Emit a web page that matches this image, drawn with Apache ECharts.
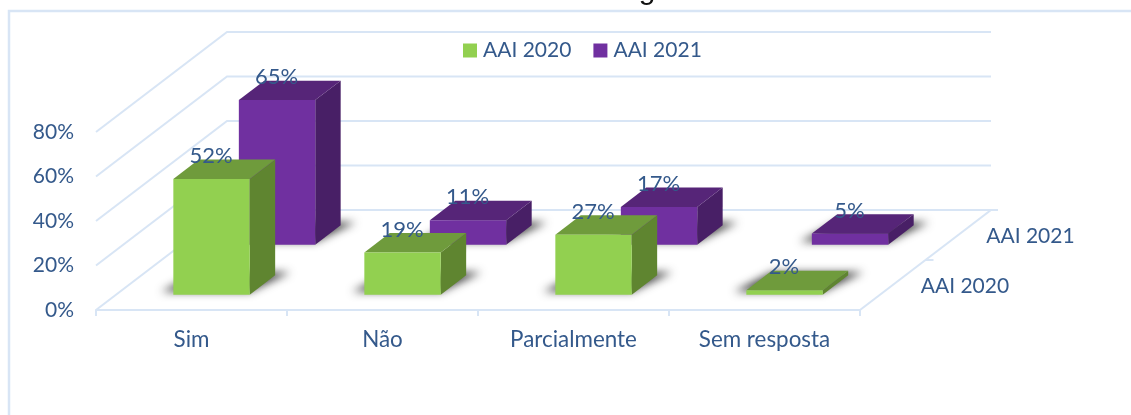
<!DOCTYPE html>
<html><head><meta charset="utf-8">
<style>html,body{margin:0;padding:0;background:#fff}#c{width:1131px;height:415px}</style>
<script src="https://cdn.jsdelivr.net/npm/echarts@6/dist/echarts.min.js"></script>
</head><body><div id="c"></div>
<script>
var categories = ['Sim', 'Não', 'Parcialmente', 'Sem resposta'];
var aai2020 = [52, 19, 27, 2];
var aai2021 = [65, 11, 17, 5];
var yTicks = [0, 20, 40, 60, 80];
var rowNames = ['AAI 2020', 'AAI 2021'];

var FONT = 'Lato';
var TEXT = '#34598b';
var LINE = '#d8e5f5';
var DEPTH_X = 131, DEPTH_Y = 100;           // floor depth vector
var ROW_DY = 50, BAR_DY = 19.4, K = DEPTH_X / DEPTH_Y;
var FS = 21, FS_CAT = 22.4, FS_VAL = 22;
var OFF = 3000;

function barRenderer(row, front, top, side) {
  return function (params, api) {
    var cat = api.value(0), val = api.value(1);
    var base = api.coord([cat, 0]), tip = api.coord([cat, val]);
    var w = api.size([1, 0])[0] * 0.4;
    var start = ROW_DY * (row + 0.5) - BAR_DY / 2;
    var oy = -start;
    var dx = BAR_DY * K, dy = -BAR_DY;
    var x0 = base[0] - w / 2 + start * K, x1 = x0 + w;
    var yb = base[1] + oy, yt = tip[1] + oy;
    var poly = function (pts, fill) {
      return { type: 'polygon', shape: { points: pts }, style: { fill: fill } };
    };
    var sy = yb - 3;
    return {
      type: 'group',
      children: [
        { type: 'polygon', shape: { points: [[x0 - 12 - OFF, sy], [x1 - OFF, sy], [x1 + dx + 15 - OFF, sy + dy], [x0 + dx - OFF, sy + dy]] },
          style: { fill: '#555', shadowBlur: 8, shadowOffsetX: OFF, shadowColor: 'rgba(60,60,60,0.95)' } },
        poly([[x1, yb], [x1 + dx, yb + dy], [x1 + dx, yt + dy], [x1, yt]], side),
        poly([[x0, yt], [x1, yt], [x1 + dx, yt + dy], [x0 + dx, yt + dy]], top),
        poly([[x0, yb], [x1, yb], [x1, yt], [x0, yt]], front),
        { type: 'text', x: (x0 + x1) / 2 - 0.5, y: yt - 23,
          style: { text: val + '%', fill: TEXT, font: FS_VAL + 'px ' + FONT, align: 'center', verticalAlign: 'middle' } }
      ]
    };
  };
}

var option = {
  animation: false,
  backgroundColor: '#fff',
  grid: { left: 96, right: 271, top: 132, bottom: 105 },
  legend: {
    data: rowNames, left: 458, top: 35, itemWidth: 14, itemHeight: 14, itemGap: 22, icon: 'rect',
    textStyle: { color: TEXT, fontFamily: FONT, fontSize: FS, padding: [0, 0, 0, 1] }
  },
  xAxis: {
    type: 'category', data: categories,
    axisLine: { lineStyle: { color: LINE, width: 2 } },
    axisTick: { show: true, length: 6, lineStyle: { color: LINE, width: 2 } },
    axisLabel: { color: TEXT, fontFamily: FONT, fontSize: FS_CAT, margin: 19 }
  },
  yAxis: {
    type: 'value', min: 0, max: 80, interval: 20,
    axisLine: { show: false }, axisTick: { show: false }, splitLine: { show: false },
    axisLabel: { color: TEXT, fontFamily: FONT, fontSize: FS, margin: 22, padding: [4, 0, 0, 0], formatter: '{value}%' }
  },
  graphic: [
    { type: 'rect', z: -10, shape: { x: 9, y: 11, width: 1300, height: 600 }, style: { fill: 'none', stroke: LINE, lineWidth: 2.5 } },
    { type: 'text', z: 5, x: 647, y: -24, style: { text: 'g', fill: '#111', font: '30px "Liberation Sans"', align: 'center', verticalAlign: 'top' } }
  ],
  series: [
    { // walls and floor, derived from the value axis ticks
      type: 'custom', silent: true, z: 1, data: yTicks.map(function (t) { return [0, t]; }),
      encode: { x: 0, y: 1 },
      renderItem: function (params, api) {
        var v = api.value(1), g = params.coordSys;
        var y = api.coord([0, v])[1];
        var x0 = g.x, xr = g.x + g.width;
        var s = { stroke: LINE, lineWidth: 2, fill: 'none' };
        var kids = [{ type: 'polyline', shape: { points: [[x0, y], [x0 + DEPTH_X, y - DEPTH_Y], [xr + DEPTH_X, y - DEPTH_Y]] }, style: s }];
        if (v === 0) {
          kids.push({ type: 'polyline', shape: { points: [[xr, y], [xr + DEPTH_X, y - DEPTH_Y], [xr + DEPTH_X + 7, y - DEPTH_Y]] }, style: s });
          kids.push({ type: 'line', shape: { x1: xr + DEPTH_X / 2, y1: y - DEPTH_Y / 2, x2: xr + DEPTH_X / 2 + 8, y2: y - DEPTH_Y / 2 }, style: s });
        }
        return { type: 'group', children: kids };
      }
    },
    { // depth axis labels
      type: 'custom', silent: true, z: 2, data: rowNames.map(function (n, i) { return [categories.length - 1, 0, i]; }),
      encode: { x: 0, y: 1 },
      renderItem: function (params, api) {
        var i = api.value(2), g = params.coordSys;
        var d = ROW_DY * (i + 0.5);
        return { type: 'text', x: g.x + g.width + d * K + 28, y: api.coord([0, 0])[1] - d + 1.5,
          style: { text: rowNames[i], fill: TEXT, font: FS + 'px ' + FONT, align: 'left', verticalAlign: 'middle' } };
      }
    },
    {
      name: 'AAI 2021', type: 'custom', z: 3, data: aai2021.map(function (v, i) { return [i, v]; }),
      encode: { x: 0, y: 1 }, itemStyle: { color: '#7030a0' },
      renderItem: barRenderer(1, '#7030a0', '#562578', '#481f66')
    },
    {
      name: 'AAI 2020', type: 'custom', z: 4, data: aai2020.map(function (v, i) { return [i, v]; }),
      encode: { x: 0, y: 1 }, itemStyle: { color: '#92d050' },
      renderItem: barRenderer(0, '#92d050', '#6f9b3c', '#5f8530')
    }
  ]
};
var chart = echarts.init(document.getElementById('c'), null, { renderer: 'canvas' });
chart.setOption(option);
</script></body></html>
